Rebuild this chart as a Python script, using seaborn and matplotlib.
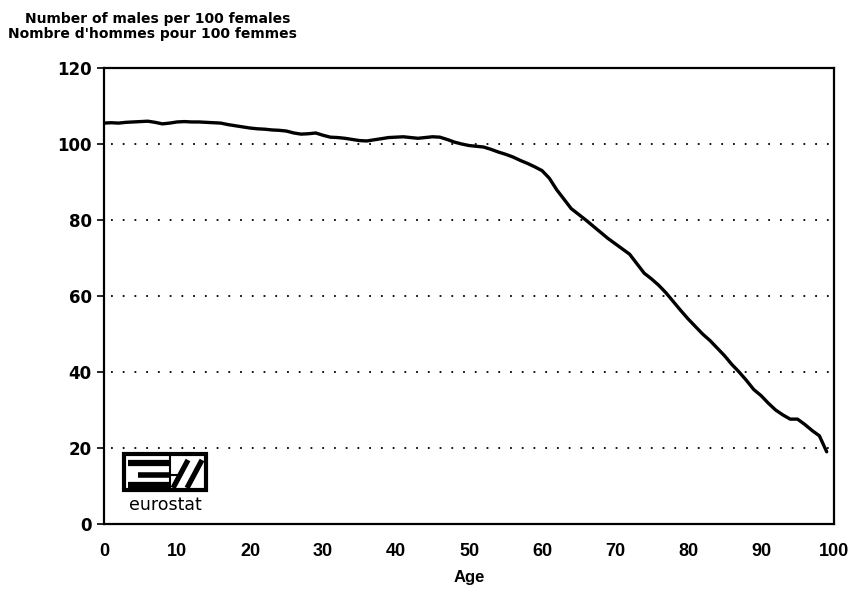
import numpy as np
import pandas as pd
import seaborn as sns
import matplotlib.pyplot as plt
from matplotlib.patches import Rectangle
from matplotlib.lines import Line2D

# Sex ratio by single year of age
ages = list(range(0, 100))
males_per_100 = [
    105.5, 105.6, 105.5, 105.7, 105.8, 105.9, 106.0, 105.7, 105.3, 105.5,
    105.8, 105.9, 105.8, 105.8, 105.7, 105.6, 105.5, 105.1, 104.8, 104.5,
    104.2, 104.0, 103.9, 103.7, 103.6, 103.4, 102.9, 102.6, 102.7, 102.9,
    102.3, 101.8, 101.7, 101.5, 101.2, 100.9, 100.8, 101.1, 101.4, 101.7,
    101.8, 101.9, 101.7, 101.5, 101.7, 101.9, 101.8, 101.2, 100.5, 100.0,
    99.6, 99.4, 99.2, 98.6, 97.9, 97.3, 96.6, 95.7, 94.9, 94.0,
    93.0, 91.0, 88.0, 85.5, 83.0, 81.5, 80.0, 78.4, 76.8, 75.2,
    73.8, 72.4, 71.0, 68.5, 66.0, 64.5, 62.8, 60.8, 58.5, 56.2,
    54.0, 52.0, 50.0, 48.3, 46.3, 44.3, 42.0, 40.0, 37.8, 35.4,
    33.8, 31.8, 30.0, 28.7, 27.6, 27.6, 26.2, 24.6, 23.2, 19.0,
]
x_ticks = list(range(0, 101, 10))
y_ticks = list(range(0, 121, 20))
grid_levels = [20, 40, 60, 80, 100]
title_lines = ["Number of males per 100 females", "Nombre d'hommes pour 100 femmes"]

df = pd.DataFrame({"Age": ages, "Ratio": males_per_100})

sns.set_style("white")
plt.rcParams['font.family'] = ['Liberation Sans', 'DejaVu Sans']
plt.rcParams['text.color'] = 'black'
plt.rcParams['xtick.color'] = 'black'
plt.rcParams['ytick.color'] = 'black'
plt.rcParams['axes.labelcolor'] = 'black'

W, H = 857, 589
fig = plt.figure(figsize=(W / 100, H / 100), dpi=100)
ax = fig.add_axes([104 / W, 1 - 524 / H, (834 - 104) / W, (524 - 68) / H])

# dotted reference lines
for lev in grid_levels:
    ax.axhline(lev, xmin=0.01, color='black', linestyle=(0, (1, 5.5)), linewidth=1.3, zorder=1)

sns.lineplot(data=df, x="Age", y="Ratio", color='black', linewidth=2.4, ax=ax, zorder=3)

ax.set_xlim(0, 100)
ax.set_ylim(0, 120)
ax.set_xticks(x_ticks)
ax.set_yticks(y_ticks)
ax.set_xticklabels([str(t) for t in x_ticks], fontsize=13, fontweight='bold')
ax.set_yticklabels([str(t) for t in y_ticks], fontsize=12, fontweight='bold',
                   family=['DejaVu Sans'])
ax.tick_params(axis='x', direction='in', length=6, width=1.2, pad=14)
ax.tick_params(axis='y', direction='out', length=5, width=1.2, pad=4, left=True)
ax.set_xlabel("Age", fontsize=12, fontweight='bold', labelpad=7)
ax.set_ylabel("")
for side in ['left', 'bottom', 'top', 'right']:
    ax.spines[side].set_visible(True)
    ax.spines[side].set_color('black')
    ax.spines[side].set_linewidth(1.6)

fig.text(158 / W, 1 - 19 / H, title_lines[0], ha='center', va='center',
         fontsize=10, fontweight='bold', family=['DejaVu Sans'])
fig.text(152 / W, 1 - 34 / H, title_lines[1], ha='center', va='center',
         fontsize=10, fontweight='bold', family=['DejaVu Sans'])


# eurostat logo, drawn in figure pixel coordinates
def px(x, y):
    return x / W, 1 - y / H


def fline(x0, y0, x1, y1, lw):
    a, b = px(x0, y0)
    c, d = px(x1, y1)
    fig.add_artist(Line2D([a, c], [b, d], color='black', linewidth=lw,
                          transform=fig.transFigure, solid_capstyle='butt'))


bx0, by0 = px(124, 490)
bx1, by1 = px(206, 454)
fig.add_artist(Rectangle((bx0, by0), bx1 - bx0, by1 - by0, fill=False,
                         edgecolor='black', linewidth=3, transform=fig.transFigure))
# E shape: three bars joined by the divider
fline(128, 463, 170, 463, 4.5)
fline(138, 474.5, 170, 474.5, 4)
fline(128, 484.5, 170, 484.5, 4.5)
fline(170, 455, 170, 489, 1.5)
fline(170, 474.5, 182, 474.5, 1.5)
# slashes
fline(173, 488, 188, 460, 3.8)
fline(187, 488, 202, 460, 3.8)
fig.text(165 / W, 1 - 505 / H, "eurostat", ha='center', va='center', fontsize=12.5,
         family=['DejaVu Sans'])

fig.savefig("out.png", dpi=100)
